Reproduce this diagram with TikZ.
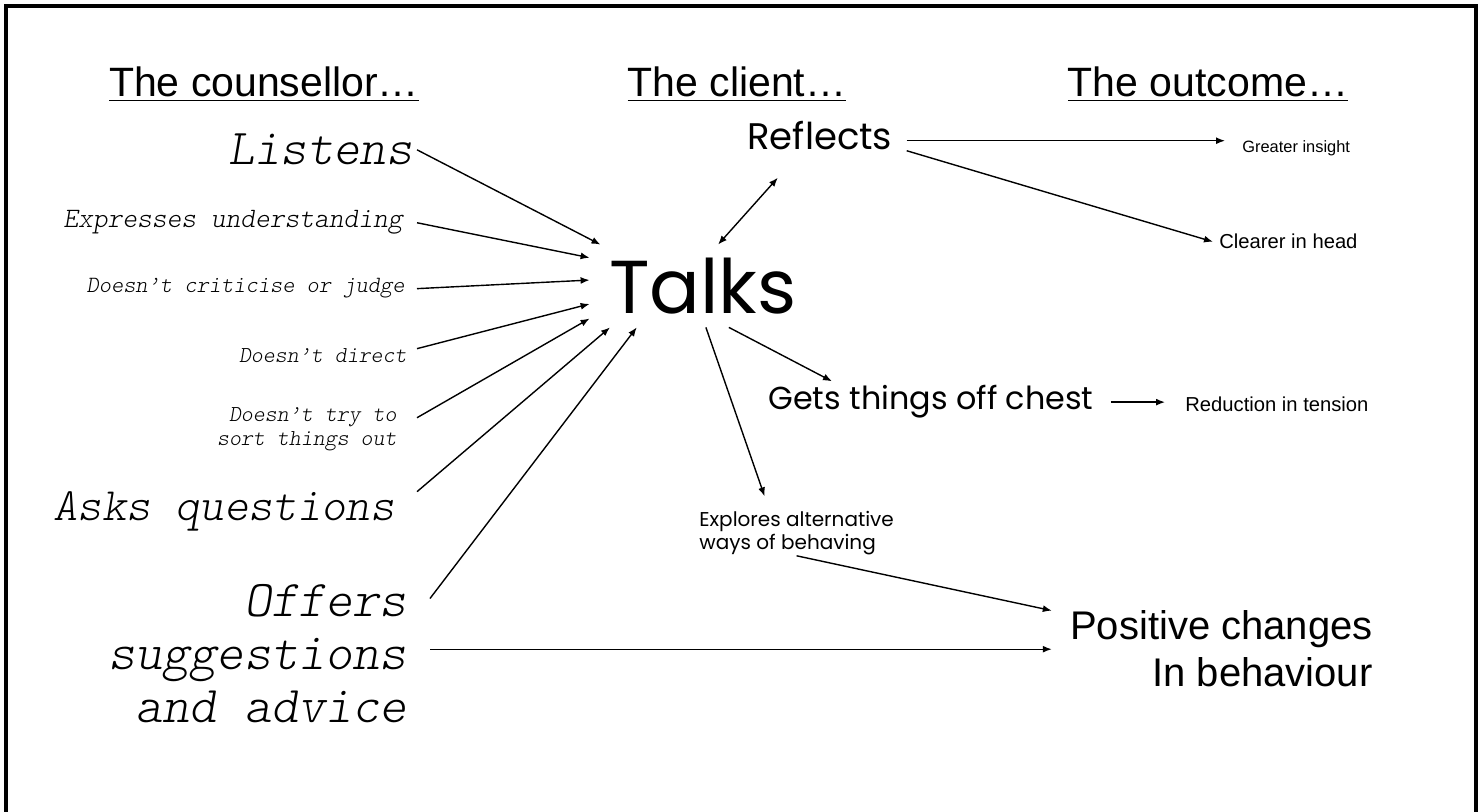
\documentclass[tikz,border=0pt]{standalone}
\usepackage{fontspec}
\setmainfont{Liberation Sans}
\newfontfamily\handwriting{Poppins}
\newfontfamily\typewriter{lmmonolt10-regular.otf}[ItalicFont=lmmonolt10-oblique.otf]
\usetikzlibrary{arrows.meta}

\tikzset{
  heading/.style={font=\fontsize{20.5}{25}\selectfont, anchor=base, inner sep=0pt},
  does/.style 2 args={font=\typewriter\itshape\fontsize{#1}{#2}\selectfont,
    align=right, anchor=base east, inner ysep=0pt},
  says/.style 2 args={font=\handwriting\fontsize{#1}{#2}\selectfont, inner ysep=0pt},
  result/.style 2 args={font=\fontsize{#1}{#2}\selectfont, inner ysep=0pt},
  link/.style={->, line width=0.7pt},
  >={Latex[length=4.5pt,width=3.5pt]},
}

\begin{document}
\begin{tikzpicture}[x=0.5pt,y=-0.5pt]
\useasboundingbox (0,0) rectangle (1480,812);
% frame, open at the bottom
\draw[line width=1.6pt] (6,830) -- (6,6) -- (1476,6) -- (1476,830);

% column headings
\node[heading] (hcoun) at (264,97) {\underline{The counsellor…}};
\node[heading] (hcli) at (737,97) {\underline{The client…}};
\node[heading] (hout) at (1208,97) {\underline{The outcome…}};

% what the counsellor does (multi-line nodes sit on their last line)
\node[does={25.1}{30}, inner xsep=2pt] (listens) at (417,165) {Listens};
\node[does={14.05}{17}, inner xsep=7pt] (expresses) at (417,228) {Expresses understanding};
\node[does={11.65}{14}, inner xsep=6pt] (criticise) at (417,293) {Doesn’t criticise or judge};
\node[does={11.4}{12}, inner xsep=5pt] (direct) at (417,363) {Doesn’t direct};
\node[does={11.4}{12}, inner xsep=10pt] (sorting) at (417,446) {Doesn’t try to\\sort things out};
\node[does={23.2}{28}, inner xsep=11pt] (asks) at (417,521) {Asks questions};
\node[does={25.8}{26.5}, inner xsep=11.5pt] (offers) at (430,723) {Offers\\suggestions\\and advice};

% what the client does
\node[says={37.5}{45}, minimum width=113pt, minimum height=41pt, inner sep=0pt] (talks) at (703,286) {Talks};
\node[says={18.5}{22}, inner xsep=7pt, anchor=base west] (reflects) at (733,150) {Reflects};
\node[says={15.9}{18}, inner xsep=8.5pt, anchor=base west] (gets) at (751,410) {Gets things off chest};
\node[says={10}{11.5}, inner xsep=0pt, align=left, anchor=base west] (explores) at (699,550) {Explores alternative\\ways of behaving};

% what comes of it
\node[result={8.2}{10}, inner xsep=8.5pt, anchor=base west] (greater) at (1225,153) {Greater insight};
\node[result={10.1}{12}, inner xsep=3pt, anchor=base west] (clearer) at (1213,249) {Clearer in head};
\node[result={10.1}{12}, inner xsep=10pt, anchor=base west] (reduction) at (1165,412) {Reduction in tension};
\node[result={20}{23.5}, inner xsep=9pt, align=right, anchor=base east] (positive) at (1391,687) {Positive changes\\In behaviour};

% counsellor -> talks
\draw[link] (listens.east) -- (talks.158);
\draw[link] (expresses.east) -- (talks.166);
\draw[link] (criticise.east) -- (talks.177);
\draw[link] (direct.north east) -- (talks.189);
\draw[link] ([yshift=6pt]sorting.east) -- (talks.196);
\draw[link] (asks.north east) -- (talks.204);
\draw[link] ([yshift=-7pt]offers.north east) -- (talks.212);

% client
\draw[link, <->] (talks.70) -- ([xshift=-21pt,yshift=-13.5pt]reflects.south);
\draw[link] (talks.302) -- ([xshift=40.5pt,yshift=2pt]gets.north west);
\draw[link] (talks.274) -- ([xshift=-16pt,yshift=7.5pt]explores.north);

% outcomes
\draw[link] (reflects.east |- greater.north west) -- (greater.north west);
\draw[link] (reflects.south east) -- (clearer.west);
\draw[link] (gets.east) -- (gets.east -| reduction.west);
\draw[link] (explores.south) -- (positive.north west);
\draw[link] (offers.east |- positive.west) -- (positive.west);
\end{tikzpicture}
\end{document}
